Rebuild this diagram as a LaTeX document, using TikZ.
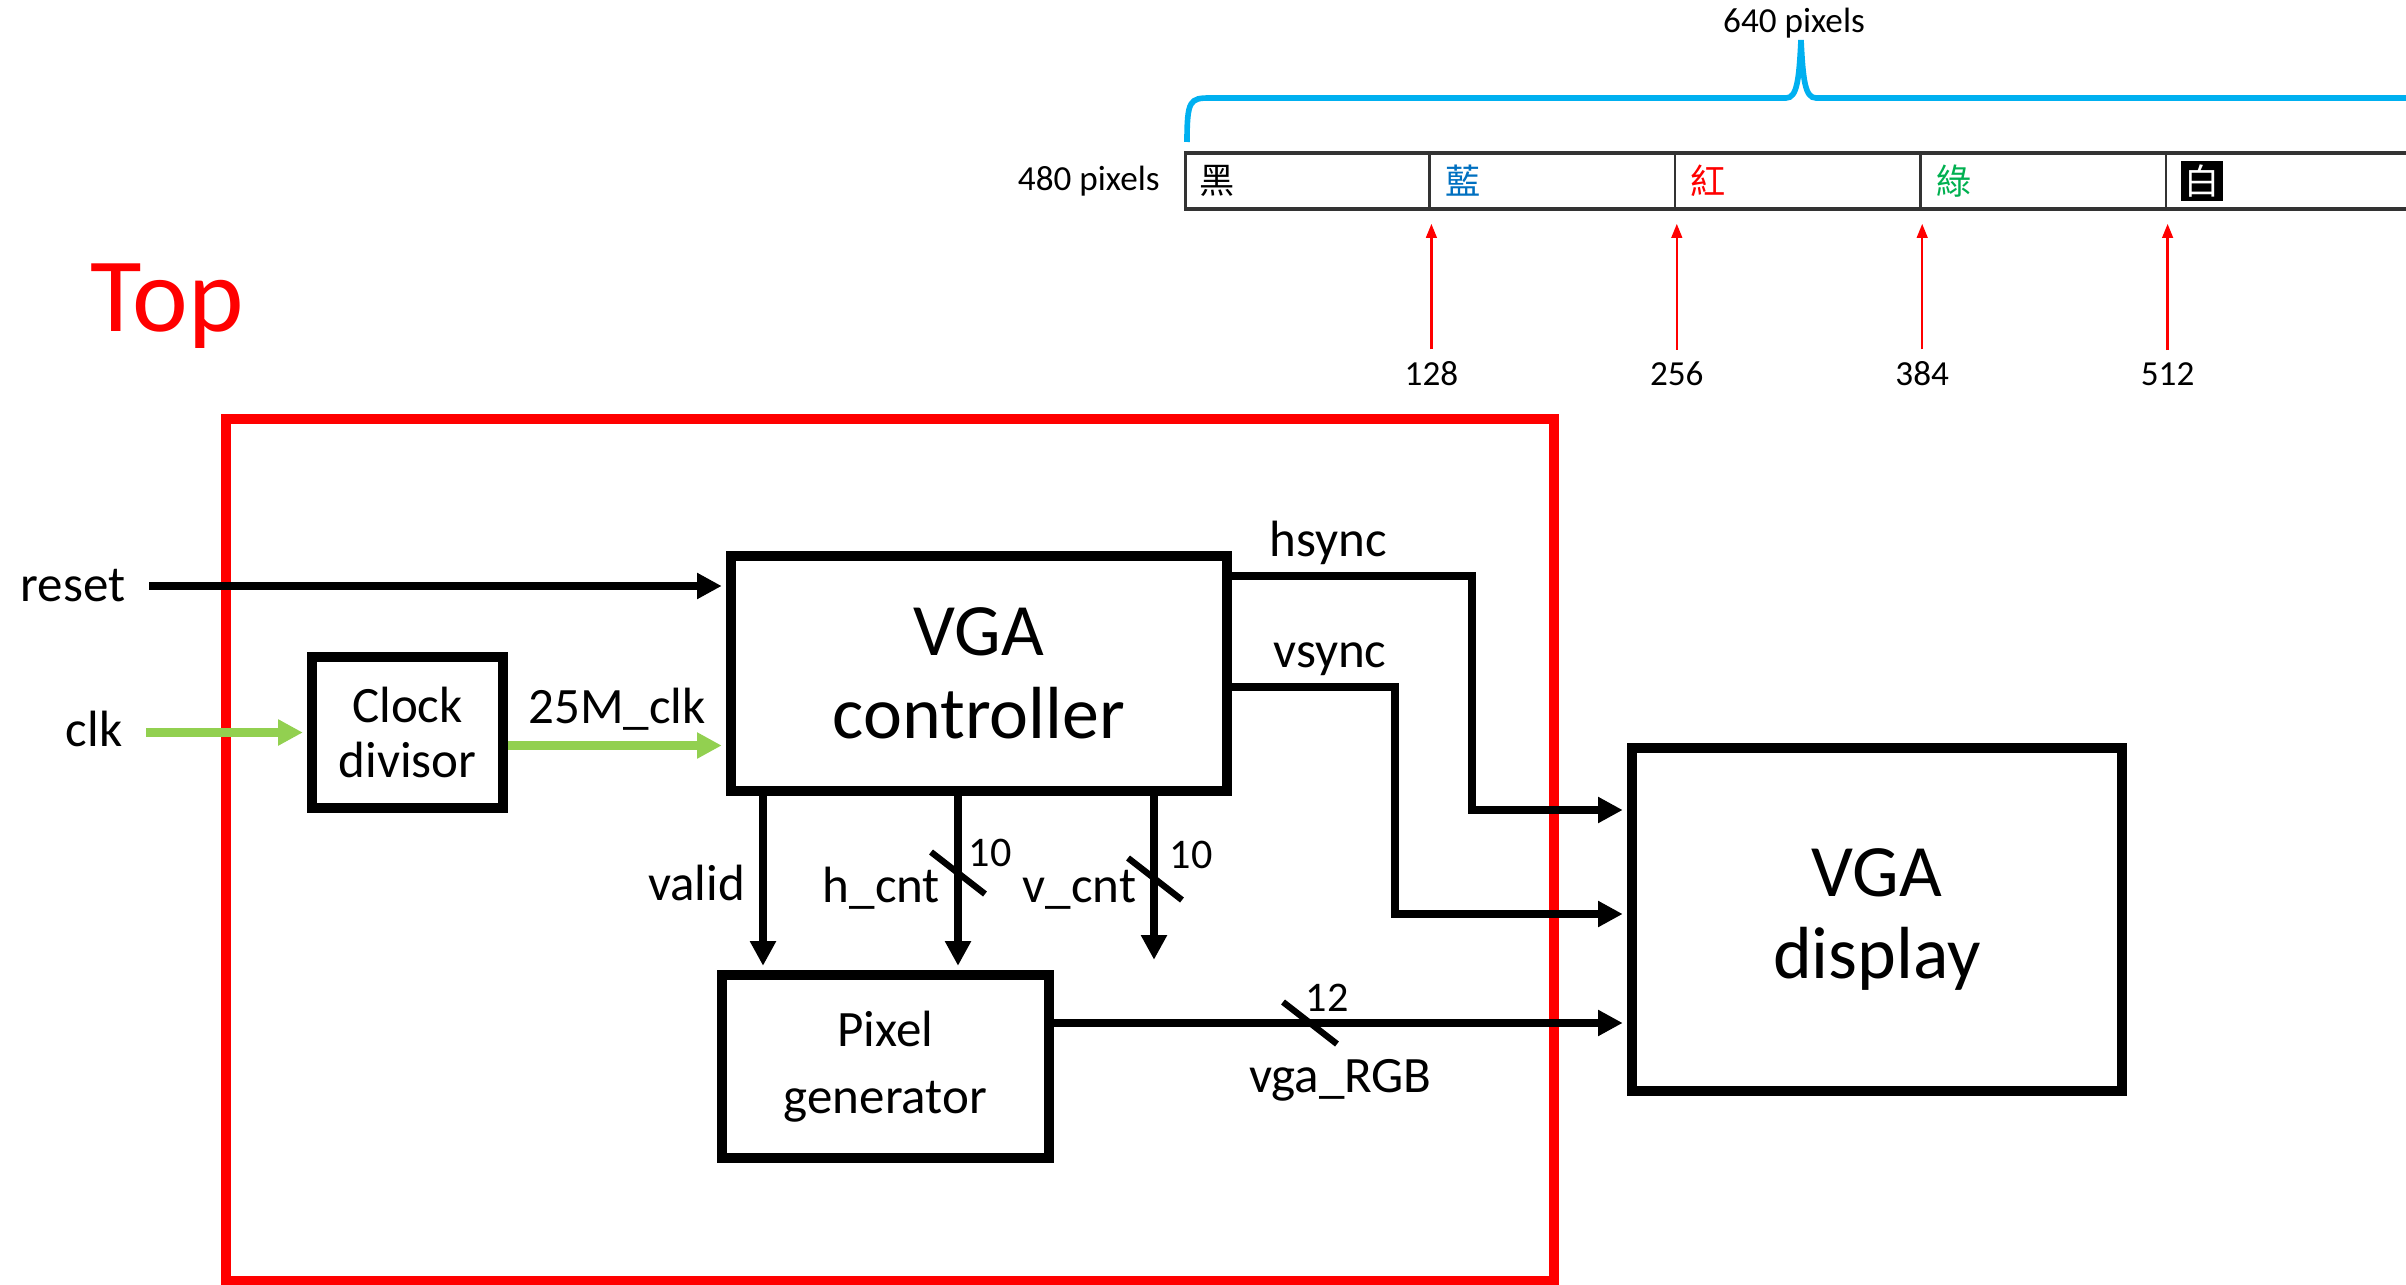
\documentclass[tikz,border=0pt]{standalone}
\usepackage{fontspec}
\setmainfont{Carlito}
\newfontfamily\cjk{Noto Sans CJK TC}
\usepackage{xcolor}
\definecolor{myred}{RGB}{255,0,0}
\definecolor{mygreen}{RGB}{146,208,80}
\definecolor{mycyan}{RGB}{0,176,240}
\definecolor{myblue}{RGB}{0,112,192}
\definecolor{mylime}{RGB}{0,176,80}
\usepackage{tikz}
\usetikzlibrary{arrows.meta}
\newcommand{\BusMark}[4]{
\draw[busmark] #2 ++(-27,-21) -- ++(54,42);
\node[busnum] (#1) at #4 {#3};}

\begin{document}
\begin{tikzpicture}[x=0.01cm,y=-0.01cm,>={Triangle[length=7pt,width=7pt]}]
	\tikzstyle{blk}=[draw,line width=2.8pt,align=center,inner sep=0pt,font=\fontsize{14.5}{15.5}\selectfont];
	\tikzstyle{bigblk}=[blk,font=\fontsize{21}{23.5}\selectfont];
	\tikzstyle{sig}=[line width=2.2pt,->,shorten >=1.2pt];
	\tikzstyle{clksig}=[line width=2.8pt,mygreen,->,shorten >=1.2pt];
	\tikzstyle{lbl}=[font=\fontsize{14.5}{17}\selectfont,inner sep=2pt,text=black];
	\tikzstyle{busmark}=[line width=1.8pt];
	\tikzstyle{busnum}=[font=\fontsize{12}{14}\selectfont,inner sep=0pt];
	\tikzstyle{pxarrow}=[myred,line width=0.7pt,-{Triangle[length=4pt,width=3pt]}];
	\tikzstyle{smalltxt}=[font=\fontsize{10}{12}\selectfont];
	\tikzstyle{pxcell}=[font=\cjk\fontsize{10}{12}\selectfont,inner sep=0pt,anchor=west];
	\useasboundingbox (0,0) rectangle (2406,1285);
	%% pixel bar
	\draw[mycyan,line width=1.6pt] (1187,142) .. controls (1187,100) and (1190,98) .. (1210,98)
		-- (1786,98) .. controls (1797,98) and (1799,80) .. (1801,40)
		.. controls (1803,80) and (1805,98) .. (1816,98) -- (2420,98);
	\node[smalltxt] (w640) at (1794,23) {640 pixels};
	\node[draw=black!80,line width=1pt,minimum width=12.27cm,minimum height=0.56cm,inner sep=0pt] (bar) at (1799.5,181) {};
	\node[smalltxt,anchor=east] (h480) at (1172,181) {480 pixels};
	\foreach \i in {1,...,4}
		\draw[line width=0.6pt,black!80] ([xshift=\i*2.454cm]bar.north west) -- ([xshift=\i*2.454cm]bar.south west);
	\foreach \i/\ch/\col in {0/黑/black,1/藍/myblue,2/紅/myred,3/綠/mylime}
		\node[pxcell,text=\col] (c\i) at ([xshift=\i*2.454cm+0.15cm]bar.west) {\ch};
	\node[pxcell,fill=black,text=white,inner sep=1pt] (c4) at ([xshift=4*2.454cm+0.14cm]bar.west) {白};
	\foreach \i/\v in {1/128,2/256,3/384,4/512}{
		\node[smalltxt] (n\v) at (1186+245.4*\i,374) {\v};
		\draw[pxarrow] (n\v.north) -- ([yshift=-0.13cm]n\v.north |- bar.south);
	}
	%% frame
	\draw[myred,line width=2.7pt] (226,419) rectangle (1554,1281);
	\node[text=myred,font=\fontsize{30}{34}\selectfont,anchor=west,inner sep=0pt] (top) at (90,306) {Top};
	%% blocks
	\node[bigblk,minimum width=4.96cm,minimum height=2.35cm] (ctrl) at (979,673.5) {VGA\\controller};
	\node[blk,minimum width=1.91cm,minimum height=1.51cm] (div) at (407.5,732.5) {Clock\\divisor};
	\node[blk,font=\fontsize{14.5}{19}\selectfont,minimum width=3.27cm,minimum height=1.83cm] (pix) at (885.5,1066.5) {Pixel\\generator};
	\node[bigblk,minimum width=4.90cm,minimum height=3.43cm] (disp) at (1877,919.5) {VGA\\display};
	%% inputs
	\node[lbl,inner xsep=6.5pt,anchor=east] (reset) at (149,586) {reset};
	\node[lbl,inner xsep=6.5pt,anchor=east] (clk) at (146,729) {clk};
	\draw[sig] (reset.east) -- (reset.east -| ctrl.west);
	\draw[clksig] (clk.east |- div.west) -- (div.west);
	\draw[clksig] ([yshift=-0.13cm]div.east) -- node[lbl,above=1pt] (l25) {25M\_clk} ([yshift=-0.13cm]div.east -| ctrl.west);
	%% outputs
	\coordinate (hsBend) at (1472,810);
	\coordinate (vsBend) at (1395,914);
	\draw[sig] ([yshift=-0.25cm]ctrl.north east) -| node[lbl,pos=0.2,above=0pt] (lhs) {hsync} (hsBend) -- (hsBend -| disp.west);
	\draw[sig] ([yshift=-0.135cm]ctrl.east) -| node[lbl,pos=0.3,above=0pt] (lvs) {vsync} (vsBend) -- (vsBend -| disp.west);
	\draw[sig] ([yshift=0.435cm]pix.east) -- node[lbl,below=0.26cm] (lrgb) {vga\_RGB} ([yshift=0.435cm]pix.east -| disp.west);
	%% counters
	\coordinate (vaX) at (763,0);
	\coordinate (hcX) at (958,0);
	\coordinate (vEnd) at (1154,964);
	\draw[sig] (ctrl.south -| vaX) -- node[lbl,left=2pt] (lva) {valid} (pix.north -| vaX);
	\draw[sig] (ctrl.south -| hcX) -- node[lbl,left=2pt,yshift=-0.05cm] (lhc) {h\_cnt} (pix.north -| hcX);
	\draw[sig] (ctrl.south -| vEnd) -- node[lbl,left=2pt,yshift=-0.1cm] (lvc) {v\_cnt} (vEnd);
	%% bus widths
	\BusMark{b1}{(958,873)}{10}{(990,853)}
	\BusMark{b2}{(1155,879)}{10}{(1191,855)}
	\BusMark{b3}{(1310,1023)}{12}{(1327,998)}
\end{tikzpicture}
\end{document}
